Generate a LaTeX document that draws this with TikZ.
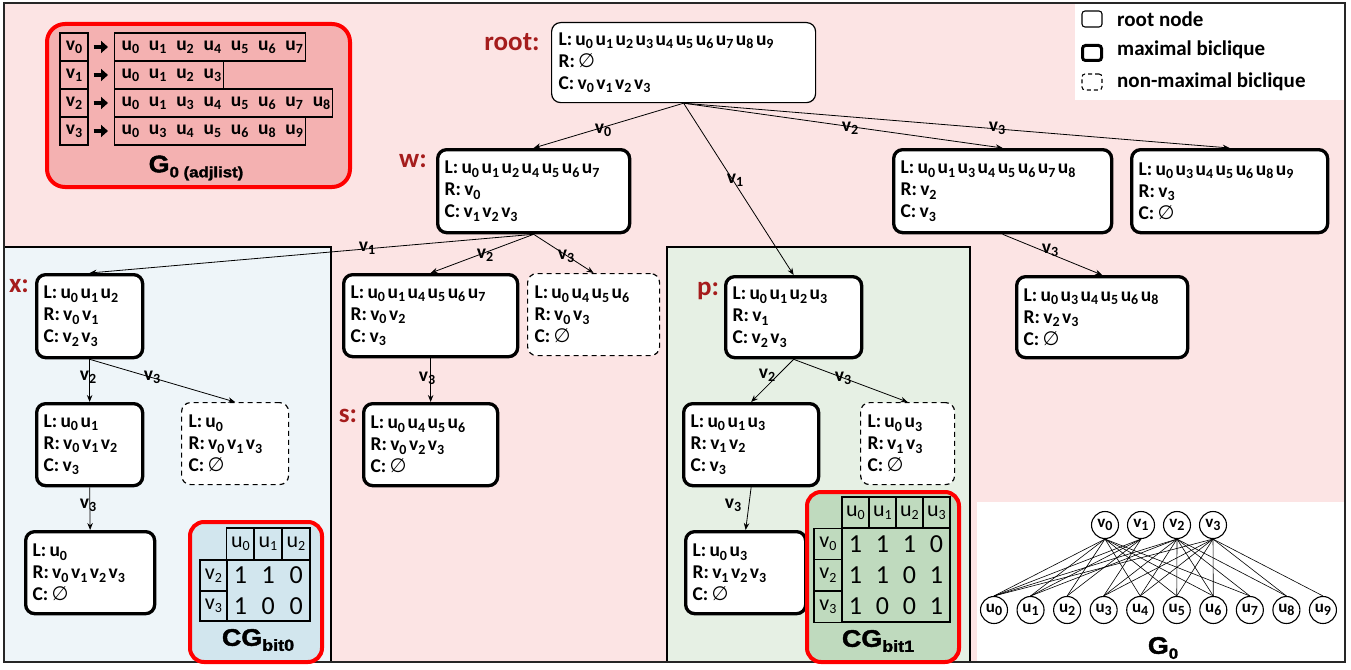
\documentclass[tikz,border=0pt]{standalone}
\usepackage{fontspec}
\setmainfont{Carlito}
\newfontfamily\heavy[FakeStretch=1.12,FakeBold=1.8]{Liberation Sans}
\newfontfamily\sym{DejaVu Sans}
\usetikzlibrary{arrows.meta}
\definecolor{bgpink}{HTML}{FCE4E4}
\definecolor{bgblue}{HTML}{EEF5F9}
\definecolor{bggreen}{HTML}{E6F0E4}
\definecolor{adjfill}{HTML}{F4B1B1}
\definecolor{cgblue}{HTML}{D2E6EE}
\definecolor{cggreen}{HTML}{BFDABE}
\definecolor{darkred}{HTML}{A51C1C}
\newlength\pg \setlength\pg{2.5pt}
\newcommand\sbs[1]{\raisebox{-3.2pt}{\fontsize{14}{14}\selectfont #1}}
\newcommand\Uu[1]{u\sbs{#1}\kern\pg}
\newcommand\Vv[1]{v\sbs{#1}\kern\pg}
\newcommand\es{{\sym\mdseries ∅}}
\newcommand\nodefont{\bfseries\fontsize{19.5}{22}\selectfont}
\newcommand\ent[1]{\makebox[27.3pt][l]{u\sbs{#1}}}
\begin{document}
\begin{tikzpicture}[x=1pt,y=-1pt,
  box/.style={rounded corners=9pt, draw=black, fill=white, anchor=north west, align=left, inner xsep=7pt, inner ysep=1pt, font=\nodefont},
  rootb/.style={box, line width=1.2pt},
  maxb/.style={box, line width=3.3pt},
  nonb/.style={box, line width=1.2pt, dash pattern=on 5pt off 4pt},
  namelbl/.style={text=darkred, font=\bfseries\fontsize{27}{27}\selectfont},
  edge/.style={-{Stealth[length=7pt,width=5.5pt]}, line width=0.8pt},
  elbl/.style={font=\nodefont, inner sep=0pt},
  acell/.style={draw=black, line width=1.3pt, inner sep=0pt, font=\bfseries\fontsize{19.5}{19.5}\selectfont},
  fatarrow/.style={-{Triangle[length=7pt,width=12pt]}, line width=3.2pt},
  heavylbl/.style={font=\heavy\bfseries\fontsize{24}{24}\selectfont, inner sep=0pt},
  tcell/.style={draw=black, line width=1.2pt, inner sep=0pt, font=\fontsize{22}{22}\selectfont},
  digit/.style={inner sep=0pt, font=\fontsize{26}{26}\selectfont},
  gnode/.style={circle, draw=black, line width=1.1pt, fill=white, minimum size=27pt, inner sep=0pt, font=\bfseries\fontsize{17}{17}\selectfont},
  gedge/.style={line width=0.6pt},
  lgtext/.style={anchor=west, inner sep=0pt, font=\bfseries\fontsize{21}{21}\selectfont}
]
\useasboundingbox (0,0) rectangle (1351,669);
% backgrounds
\fill[white] (0,0) rectangle (1351,669);
\fill[bgpink] (4,3) rectangle (1345,662);
\filldraw[fill=bgblue, draw=black, line width=1.2pt] (4,247) rectangle (331,662);
\filldraw[fill=bggreen, draw=black, line width=1.2pt] (667,247) rectangle (970,662);
\fill[white] (977,502) rectangle (1345,662);
\fill[white] (1075,3) rectangle (1345,100);
\draw[black!85, line width=1.3pt] (4,3) rectangle (1345,662);

% legend
\node[draw=black, line width=1.1pt, rounded corners=3pt, minimum width=20pt, minimum height=16pt, inner sep=0pt] (lg1) at (1092,19) {};
\node[draw=black, line width=3pt, rounded corners=3pt, minimum width=19pt, minimum height=15pt, inner sep=0pt] (lg2) at (1092,53) {};
\node[draw=black, line width=1.1pt, dash pattern=on 4pt off 3pt, rounded corners=3pt, minimum width=20pt, minimum height=16pt, inner sep=0pt] (lg3) at (1092,82) {};
\node[lgtext] (lt1) at (1117,19) {root node};
\node[lgtext] (lt2) at (1117,50) {maximal biclique};
\node[lgtext] (lt3) at (1117,82) {non-maximal biclique};

% adjacency list box
\node[draw=red, line width=4pt, fill=adjfill, rounded corners=18pt, minimum width=303pt, minimum height=163pt, anchor=north west, inner sep=0pt] (adj) at (45,22) {};
\node[acell, minimum width=28pt, minimum height=28pt] (av0) at (74,47) {v\sbs{0}};
\node[acell, minimum width=28pt, minimum height=28pt] (av1) at (74,75) {v\sbs{1}};
\node[acell, minimum width=28pt, minimum height=28pt] (av2) at (74,103) {v\sbs{2}};
\node[acell, minimum width=28pt, minimum height=28pt] (av3) at (74,131) {v\sbs{3}};
\node[acell, anchor=west, inner xsep=7pt, minimum height=28pt] (ar0) at (114,47) {\makebox[177pt][l]{\ent0\ent1\ent2\ent4\ent5\ent6\ent7}};
\node[acell, anchor=west, inner xsep=7pt, minimum height=28pt] (ar1) at (114,75) {\makebox[95pt][l]{\ent0\ent1\ent2\ent3}};
\node[acell, anchor=west, inner xsep=7pt, minimum height=28pt] (ar2) at (114,103) {\makebox[204pt][l]{\ent0\ent1\ent3\ent4\ent5\ent6\ent7\ent8}};
\node[acell, anchor=west, inner xsep=7pt, minimum height=28pt] (ar3) at (114,131) {\makebox[177pt][l]{\ent0\ent3\ent4\ent5\ent6\ent8\ent9}};
\foreach \i in {0,1,2,3} \draw[fatarrow] ([xshift=5pt]av\i.east) -- ([xshift=-6pt]ar\i.west);
\node[heavylbl] (adjlbl) at (196,168) {G\raisebox{-5pt}{\fontsize{15}{15}\selectfont 0 (adjlist)}};

% tree nodes
\node[namelbl] (lroot) at (512,42) {root:};
\node[rootb, text width=250pt, minimum height=80pt] (root) at (551,22) {L:\,\Uu0\Uu1\Uu2\Uu3\Uu4\Uu5\Uu6\Uu7\Uu8\Uu9\\R:\,\es\\C:\,\Vv0\Vv1\Vv2\Vv3};
\node[namelbl] (lw) at (413,161) {w:};
\node[maxb, text width=178pt, minimum height=83pt] (w) at (436,148) {L:\,\Uu0\Uu1\Uu2\Uu4\Uu5\Uu6\Uu7\\R:\,\Vv0\\C:\,\Vv1\Vv2\Vv3};
\node[maxb, text width=204pt, minimum height=83pt] (n2) at (892,148) {L:\,\Uu0\Uu1\Uu3\Uu4\Uu5\Uu6\Uu7\Uu8\\R:\,\Vv2\\C:\,\Vv3};
\node[maxb, text width=182pt, minimum height=83pt] (n3) at (1130,148) {L:\,\Uu0\Uu3\Uu4\Uu5\Uu6\Uu8\Uu9\\R:\,\Vv3\\C:\,\es};
\node[maxb, text width=157pt, minimum height=81pt] (n23) at (1015,275) {L:\,\Uu0\Uu3\Uu4\Uu5\Uu6\Uu8\\R:\,\Vv2\Vv3\\C:\,\es};
\node[namelbl] (lx) at (19,286) {x:};
\node[maxb, text width=92pt, minimum height=83pt] (x) at (35,273) {L:\,\Uu0\Uu1\Uu2\\R:\,\Vv0\Vv1\\C:\,\Vv2\Vv3};
\node[maxb, text width=160pt, minimum height=82pt] (wv2) at (342,273) {L:\,\Uu0\Uu1\Uu4\Uu5\Uu6\Uu7\\R:\,\Vv0\Vv2\\C:\,\Vv3};
\node[nonb, text width=118pt, minimum height=82pt] (wv3) at (527,273) {L:\,\Uu0\Uu4\Uu5\Uu6\\R:\,\Vv0\Vv3\\C:\,\es};
\node[namelbl] (ls) at (348,416) {s:};
\node[maxb, text width=120pt, minimum height=82pt] (s) at (362,402) {L:\,\Uu0\Uu4\Uu5\Uu6\\R:\,\Vv0\Vv2\Vv3\\C:\,\es};
\node[maxb, text width=92pt, minimum height=82pt] (xv2) at (35,402) {L:\,\Uu0\Uu1\\R:\,\Vv0\Vv1\Vv2\\C:\,\Vv3};
\node[nonb, text width=93pt, minimum height=82pt] (xv3) at (181,402) {L:\,\Uu0\\R:\,\Vv0\Vv1\Vv3\\C:\,\es};
\node[maxb, text width=115pt, minimum height=82pt] (xv2v3) at (24,530) {L:\,\Uu0\\R:\,\Vv0\Vv1\Vv2\Vv3\\C:\,\es};
\node[namelbl] (lp) at (708,291) {p:};
\node[maxb, text width=122pt, minimum height=81pt] (p) at (724,275) {L:\,\Uu0\Uu1\Uu2\Uu3\\R:\,\Vv1\\C:\,\Vv2\Vv3};
\node[maxb, text width=121pt, minimum height=82pt] (pv2) at (682,402) {L:\,\Uu0\Uu1\Uu3\\R:\,\Vv1\Vv2\\C:\,\Vv3};
\node[nonb, text width=80pt, minimum height=82pt] (pv3) at (860,402) {L:\,\Uu0\Uu3\\R:\,\Vv1\Vv3\\C:\,\es};
\node[maxb, text width=106pt, minimum height=82pt] (pv2v3) at (684,530) {L:\,\Uu0\Uu3\\R:\,\Vv1\Vv2\Vv3\\C:\,\es};

% tree edges
\draw[edge] (root.south) -- (w.north);
\draw[edge] (root.south) -- (p.north);
\draw[edge] (root.south) -- (n2.north);
\draw[edge] (root.south) -- (n3.north);
\draw[edge] (w.south) -- (x.north);
\draw[edge] (w.south) -- (wv2.north);
\draw[edge] (w.south) -- (wv3.north);
\draw[edge] (wv2.south) -- (s.north);
\draw[edge] (x.south) -- (xv2.north);
\draw[edge] (x.south) -- (xv3.north);
\draw[edge] (xv2.south) -- (xv2v3.north);
\draw[edge] (p.south) -- (pv2.north);
\draw[edge] (p.south) -- (pv3.north);
\draw[edge] (pv2.south) -- (pv2v3.north);
\draw[edge] (n2.south) -- (n23.north);

% edge labels
\node[elbl] (e1) at (603,130) {v\sbs{0}};
\node[elbl] (e2) at (735,180) {v\sbs{1}};
\node[elbl] (e3) at (850,128) {v\sbs{2}};
\node[elbl] (e4) at (997,128) {v\sbs{3}};
\node[elbl] (e5) at (367,248) {v\sbs{1}};
\node[elbl] (e6) at (485,255) {v\sbs{2}};
\node[elbl] (e7) at (566,256) {v\sbs{3}};
\node[elbl] (e8) at (427,378) {v\sbs{3}};
\node[elbl] (e9) at (88,377) {v\sbs{2}};
\node[elbl] (e10) at (152,377) {v\sbs{3}};
\node[elbl] (e11) at (88,505) {v\sbs{3}};
\node[elbl] (e12) at (767,375) {v\sbs{2}};
\node[elbl] (e13) at (843,378) {v\sbs{3}};
\node[elbl] (e14) at (733,505) {v\sbs{3}};
\node[elbl] (e15) at (1050,250) {v\sbs{3}};

% CG bit0
\node[draw=red, line width=4pt, fill=cgblue, rounded corners=14pt, minimum width=132pt, minimum height=140pt, anchor=north west, inner sep=0pt] (cg0) at (188,520) {};
\node[tcell, minimum width=27.5pt, minimum height=32pt] (c0h0) at (240.5,544) {u\sbs{0}};
\node[tcell, minimum width=28pt, minimum height=32pt] (c0h1) at (268,544) {u\sbs{1}};
\node[tcell, minimum width=28pt, minimum height=32pt] (c0h2) at (296,544) {u\sbs{2}};
\node[tcell, minimum width=27pt, minimum height=31pt] (c0r0) at (213.5,575.5) {v\sbs{2}};
\node[tcell, minimum width=27pt, minimum height=30pt] (c0r1) at (213.5,606) {v\sbs{3}};
\node[tcell, minimum width=83pt, minimum height=61pt] (c0d) at (268.5,590.5) {};
\foreach \d [count=\k from 0] in {1,1,0} \node[digit] (c0a\k) at (240.5+27.8*\k,575.5) {\d};
\foreach \d [count=\k from 0] in {1,0,0} \node[digit] (c0b\k) at (240.5+27.8*\k,606) {\d};
\node[heavylbl] (cg0lbl) at (258,640) {CG\raisebox{-5pt}{\fontsize{16}{16}\selectfont bit0}};

% CG bit1
\node[draw=red, line width=4pt, fill=cggreen, rounded corners=14pt, minimum width=152pt, minimum height=170pt, anchor=north west, inner sep=0pt] (cg1) at (805,490) {};
\foreach \h [count=\k from 0] in {0,1,2,3} \node[tcell, minimum width=27pt, minimum height=31pt] (c1h\k) at (855.5+27*\k,512.5) {u\sbs{\h}};
\foreach \r [count=\k from 0] in {0,2,3} \node[tcell, minimum width=28pt, minimum height=31.3pt] (c1r\k) at (828,544+31.3*\k) {v\sbs{\r}};
\node[tcell, minimum width=108pt, minimum height=94pt] (c1d) at (896,575) {};
\foreach \d [count=\k from 0] in {1,1,1,0} \node[digit] (c1a\k) at (855.5+27*\k,544) {\d};
\foreach \d [count=\k from 0] in {1,1,0,1} \node[digit] (c1b\k) at (855.5+27*\k,575.5) {\d};
\foreach \d [count=\k from 0] in {1,0,0,1} \node[digit] (c1c\k) at (855.5+27*\k,606.5) {\d};
\node[heavylbl] (cg1lbl) at (878,641) {CG\raisebox{-5pt}{\fontsize{16}{16}\selectfont bit1}};

% G0 graph
\foreach \i in {0,...,9} \node[gnode] (gu\i) at (994+36.55*\i,610) {u\sbs{\i}};
\foreach \j in {0,...,3} \node[gnode] (gv\j) at (1105+36*\j,525) {v\sbs{\j}};
\foreach \v/\lst in {0/{0,1,2,4,5,6,7},1/{0,1,2,3},2/{0,1,3,4,5,6,7,8},3/{0,3,4,5,6,8,9}}
  \foreach \u in \lst \draw[gedge] (gv\v.south) -- (gu\u.north);
\node[heavylbl] (g0lbl) at (1163,648) {G\raisebox{-5pt}{\fontsize{15}{15}\selectfont 0}};
\end{tikzpicture}
\end{document}
